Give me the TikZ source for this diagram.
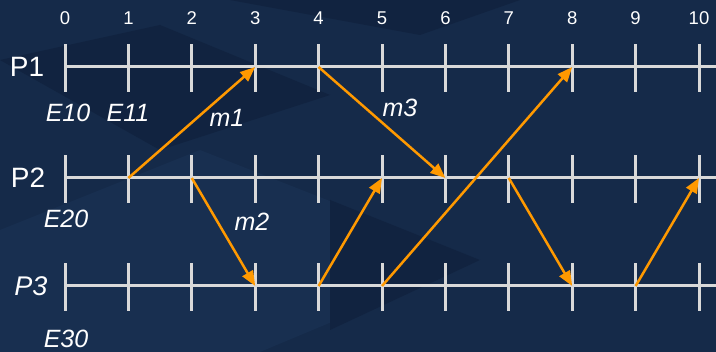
\documentclass[tikz,border=0pt]{standalone}
\usepackage{fontspec}
\setmainfont{Liberation Sans}
\usetikzlibrary{arrows.meta}
\definecolor{bg}{HTML}{152A49}
\definecolor{bgdark}{HTML}{112340}
\definecolor{bglight}{HTML}{182F50}
\definecolor{axis}{HTML}{D9D9D9}
\definecolor{msg}{HTML}{FF9900}
\begin{document}
\begin{tikzpicture}[x=1pt,y=-1pt,
  axisline/.style={axis, line width=3pt},
  tickmark/.style={axis, line width=3pt},
  msgarrow/.style={msg, line width=2.5pt, -{Triangle[length=15pt,width=12pt]}},
  numlabel/.style={text=white, anchor=base, font=\fontsize{18.5}{18.5}\selectfont},
  proclabel/.style={text=white, anchor=base, font=\fontsize{28}{28}\selectfont},
  evlabel/.style={text=white, anchor=base, font=\fontsize{25}{25}\selectfont\itshape}]
% background
\fill[bg] (0,0) rectangle (716,352);
\useasboundingbox (0,0) rectangle (716,352);
\fill[bgdark] (0,60) -- (160,25) -- (330,95) -- (160,150) -- cycle;
\fill[bglight] (0,230) -- (200,150) -- (480,260) -- (260,352) -- (0,352) -- cycle;
\fill[bgdark] (230,0) -- (520,0) -- (420,35) -- cycle;
\fill[bgdark] (330,200) -- (480,260) -- (330,330) -- cycle;
% coordinates
\foreach \i in {0,...,10}{
  \pgfmathsetmacro{\xx}{65+63.4*\i}
  \coordinate (a\i) at (\xx,67);
  \coordinate (b\i) at (\xx,178);
  \coordinate (c\i) at (\xx,286);
  \node[numlabel] (n\i) at (\xx,25) {\i};
}
\coordinate (aend) at (716,67);
\coordinate (bend) at (716,178);
\coordinate (cend) at (716,286);
% axes
\draw[axisline] (a0) -- (aend);
\draw[axisline] (b0) -- (bend);
\draw[axisline] (c0) -- (cend);
\foreach \i in {0,...,10}{
  \draw[tickmark] ([yshift=-25pt]a\i) -- ([yshift=23pt]a\i);
  \draw[tickmark] ([yshift=-25pt]b\i) -- ([yshift=23pt]b\i);
  \draw[tickmark] ([yshift=-25pt]c\i) -- ([yshift=23pt]c\i);
}
% process labels
\node[proclabel] (P1) at (27,77) {P1};
\node[proclabel] (P2) at (28,188) {P2};
\node[proclabel, font=\fontsize{27}{27}\selectfont\itshape] (P3) at (31,296) {P3};
% event / message labels
\node[evlabel] (E10) at (68,122) {E10};
\node[evlabel] (E11) at (128,122) {E11};
\node[evlabel] (m1) at (227,127) {m1};
\node[evlabel] (m3) at (400,117) {m3};
\node[evlabel] (E20) at (66,228) {E20};
\node[evlabel] (m2) at (252,231) {m2};
\node[evlabel] (E30) at (66,348) {E30};
% messages
\draw[msgarrow] (b1) -- (a3);
\draw[msgarrow] (a4) -- (b6);
\draw[msgarrow] (b2) -- (c3);
\draw[msgarrow] (c4) -- (b5);
\draw[msgarrow] (c5) -- (a8);
\draw[msgarrow] (b7) -- (c8);
\draw[msgarrow] (c9) -- (b10);
\end{tikzpicture}
\end{document}
